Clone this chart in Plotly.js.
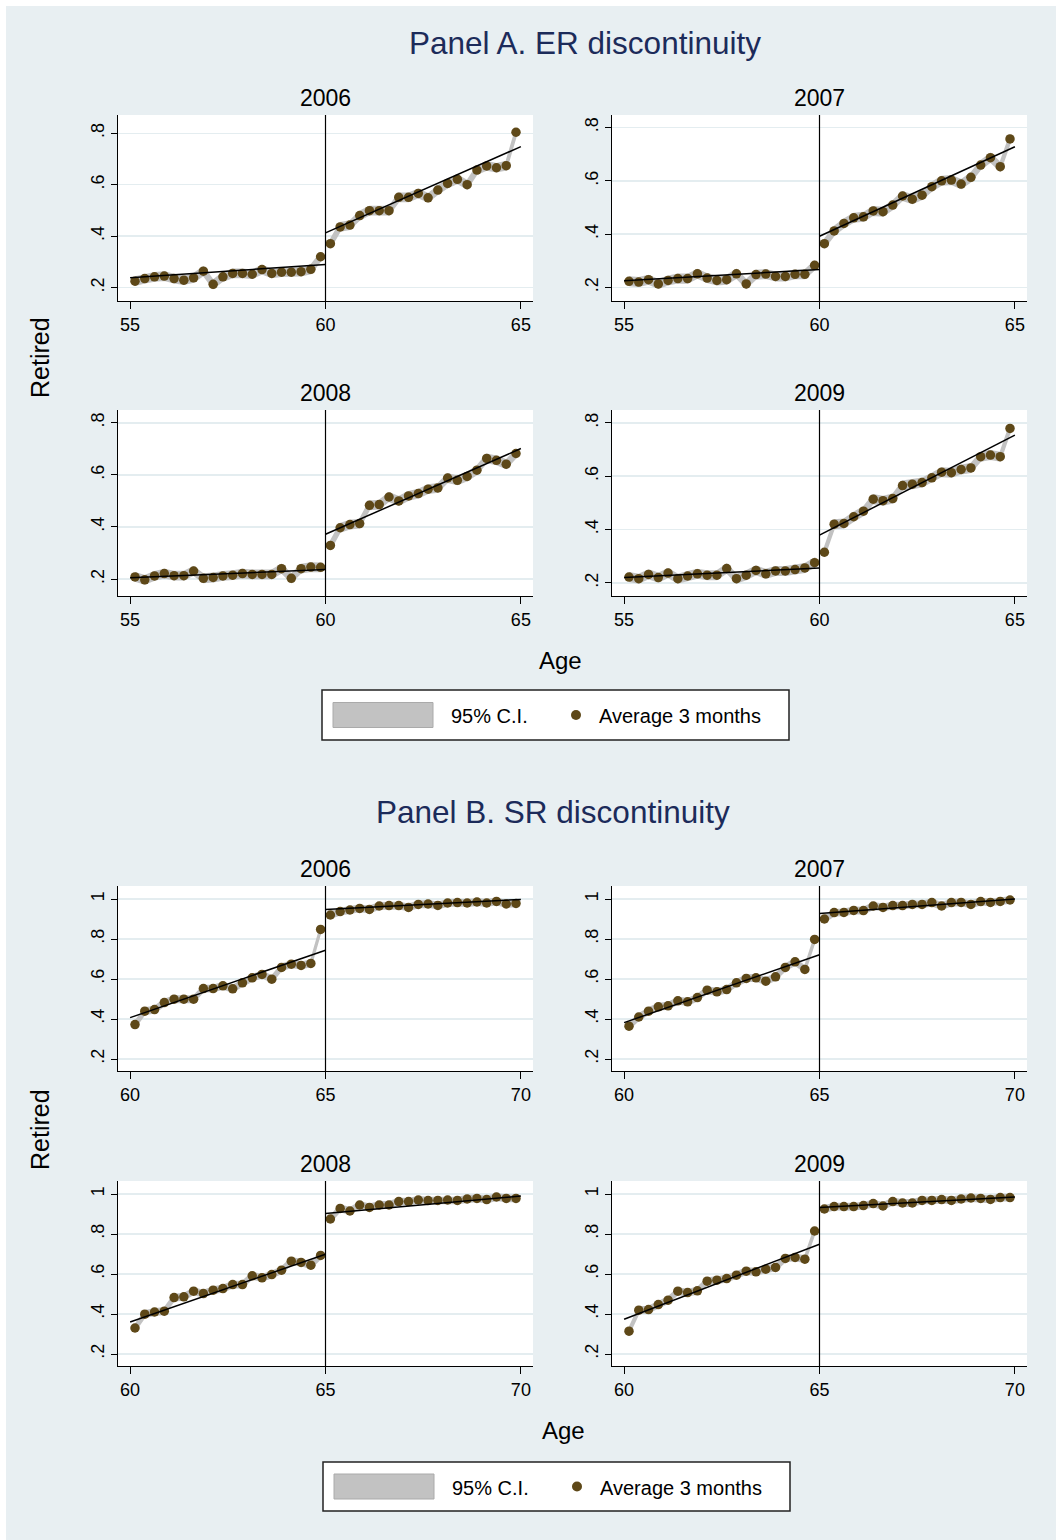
<!DOCTYPE html>
<html><head><meta charset="utf-8">
<script src="https://cdn.plot.ly/plotly-3.0.1.min.js"></script>
<style>html,body{margin:0;padding:0;background:#fff}#chart{width:1056px;height:1540px}</style>
</head><body><div id="chart"></div>
<script>
// ---------------- DATA ----------------
const years = ['2006', '2007', '2008', '2009'];
const ageER = [55.125,55.375,55.625,55.875,56.125,56.375,56.625,56.875,57.125,57.375,57.625,57.875,58.125,58.375,58.625,58.875,59.125,59.375,59.625,59.875,
               60.125,60.375,60.625,60.875,61.125,61.375,61.625,61.875,62.125,62.375,62.625,62.875,63.125,63.375,63.625,63.875,64.125,64.375,64.625,64.875];
const ageSR = [60.125,60.375,60.625,60.875,61.125,61.375,61.625,61.875,62.125,62.375,62.625,62.875,63.125,63.375,63.625,63.875,64.125,64.375,64.625,64.875,
               65.125,65.375,65.625,65.875,66.125,66.375,66.625,66.875,67.125,67.375,67.625,67.875,68.125,68.375,68.625,68.875,69.125,69.375,69.625,69.875];
const cutoffER = 60, cutoffSR = 65;
const xTicksER = [55, 60, 65], xTickTextER = ['55', '60', '65'];
const xTicksSR = [60, 65, 70], xTickTextSR = ['60', '65', '70'];
const yTicksER = [0.2, 0.4, 0.6, 0.8], yTickTextER = ['.2', '.4', '.6', '.8'];
const yTicksSR = [0.2, 0.4, 0.6, 0.8, 1], yTickTextSR = ['.2', '.4', '.6', '.8', '1'];

// Panel A: ER discontinuity (share retired, 3-month averages)
const er2006 = [0.225,0.235,0.242,0.245,0.235,0.229,0.238,0.264,0.213,0.242,0.255,0.255,0.252,0.270,0.255,0.260,0.260,0.262,0.271,0.320,
                0.371,0.436,0.443,0.480,0.499,0.499,0.499,0.551,0.551,0.566,0.549,0.579,0.605,0.621,0.600,0.657,0.673,0.666,0.674,0.804];
const er2007 = [0.223,0.220,0.229,0.213,0.226,0.233,0.233,0.251,0.235,0.226,0.229,0.251,0.213,0.248,0.250,0.241,0.241,0.249,0.249,0.283,
                0.364,0.412,0.440,0.461,0.465,0.487,0.484,0.509,0.543,0.531,0.546,0.578,0.600,0.603,0.588,0.613,0.659,0.687,0.653,0.757];
const er2008 = [0.208,0.197,0.212,0.221,0.213,0.213,0.231,0.203,0.206,0.212,0.215,0.221,0.218,0.218,0.218,0.240,0.203,0.240,0.246,0.245,
                0.329,0.397,0.409,0.413,0.483,0.486,0.515,0.500,0.519,0.528,0.545,0.550,0.588,0.579,0.594,0.618,0.663,0.656,0.641,0.682];
const er2009 = [0.222,0.216,0.232,0.220,0.237,0.216,0.226,0.234,0.229,0.229,0.254,0.216,0.229,0.247,0.234,0.245,0.245,0.250,0.256,0.276,
                0.315,0.420,0.423,0.448,0.469,0.514,0.508,0.516,0.565,0.570,0.576,0.594,0.615,0.613,0.625,0.631,0.673,0.679,0.673,0.779];
// Panel B: SR discontinuity
const sr2006 = [0.372,0.439,0.447,0.482,0.499,0.499,0.499,0.552,0.552,0.566,0.551,0.581,0.606,0.623,0.599,0.658,0.674,0.668,0.678,0.848,
                0.920,0.937,0.945,0.953,0.948,0.965,0.967,0.967,0.958,0.973,0.975,0.968,0.980,0.982,0.980,0.985,0.980,0.988,0.975,0.978];
const sr2007 = [0.364,0.410,0.439,0.461,0.466,0.491,0.486,0.507,0.544,0.536,0.547,0.581,0.603,0.606,0.589,0.611,0.658,0.686,0.648,0.798,
                0.900,0.932,0.933,0.943,0.942,0.965,0.958,0.967,0.967,0.973,0.973,0.982,0.965,0.982,0.983,0.973,0.987,0.983,0.988,0.995];
const sr2008 = [0.330,0.399,0.410,0.414,0.482,0.486,0.514,0.502,0.519,0.527,0.547,0.547,0.591,0.581,0.597,0.619,0.664,0.658,0.644,0.693,
                0.875,0.928,0.915,0.945,0.933,0.945,0.945,0.962,0.962,0.970,0.967,0.968,0.970,0.968,0.975,0.978,0.972,0.985,0.978,0.978];
const sr2009 = [0.314,0.419,0.422,0.447,0.469,0.514,0.507,0.516,0.564,0.569,0.577,0.594,0.614,0.611,0.624,0.633,0.678,0.683,0.674,0.815,
                0.925,0.937,0.937,0.937,0.942,0.952,0.940,0.962,0.955,0.955,0.968,0.968,0.972,0.968,0.975,0.980,0.978,0.973,0.982,0.982];

// Linear fits: [value at start, value at cutoff (left), value at cutoff (right), value at end]
const erFit2006 = [0.238, 0.290, 0.413, 0.748];
const erFit2007 = [0.225, 0.267, 0.392, 0.728];
const erFit2008 = [0.205, 0.237, 0.372, 0.701];
const erFit2009 = [0.220, 0.256, 0.379, 0.754];
const srFit2006 = [0.407, 0.744, 0.948, 0.998];
const srFit2007 = [0.382, 0.721, 0.928, 1.000];
const srFit2008 = [0.360, 0.699, 0.903, 0.990];
const srFit2009 = [0.374, 0.749, 0.933, 0.985];

// Approximate half-width of the 95% confidence band
const ciHalfWidth = 0.016;

// ---------------- LAYOUT ----------------
const W = 1056, H = 1540;
const fx = p => p / W, fy = p => 1 - p / H;
const MARK = '#5e4818', BAND = '#c2c2c2', NAVY = '#1c2b5a';
const FONT = 'Liberation Sans, Arial, Helvetica, sans-serif';

const colPx = [[118, 533], [612, 1027]];
const rowPx = [[115, 301], [410, 596], [886, 1071], [1181, 1366]];

const subplots = [
  {vals: er2006, fit: erFit2006, ages: ageER, cut: cutoffER, col: 0, row: 0, yr: [0.148, 0.871], year: years[0], panel: 'A'},
  {vals: er2007, fit: erFit2007, ages: ageER, cut: cutoffER, col: 1, row: 0, yr: [0.149, 0.847], year: years[1], panel: 'A'},
  {vals: er2008, fit: erFit2008, ages: ageER, cut: cutoffER, col: 0, row: 1, yr: [0.135, 0.849], year: years[2], panel: 'A'},
  {vals: er2009, fit: erFit2009, ages: ageER, cut: cutoffER, col: 1, row: 1, yr: [0.151, 0.848], year: years[3], panel: 'A'},
  {vals: sr2006, fit: srFit2006, ages: ageSR, cut: cutoffSR, col: 0, row: 2, yr: [0.14, 1.065], year: years[0], panel: 'B'},
  {vals: sr2007, fit: srFit2007, ages: ageSR, cut: cutoffSR, col: 1, row: 2, yr: [0.14, 1.065], year: years[1], panel: 'B'},
  {vals: sr2008, fit: srFit2008, ages: ageSR, cut: cutoffSR, col: 0, row: 3, yr: [0.14, 1.065], year: years[2], panel: 'B'},
  {vals: sr2009, fit: srFit2009, ages: ageSR, cut: cutoffSR, col: 1, row: 3, yr: [0.14, 1.065], year: years[3], panel: 'B'}
];

const traces = [];
const layout = {
  width: W, height: H,
  margin: {l: 0, r: 0, t: 0, b: 0},
  paper_bgcolor: '#e8eff2',
  plot_bgcolor: '#ffffff',
  showlegend: false,
  font: {family: FONT, color: '#000'},
  shapes: [], annotations: []
};

subplots.forEach((sp, i) => {
  const s = i === 0 ? '' : String(i + 1);
  const xa = 'x' + s, ya = 'y' + s;
  const isA = sp.panel === 'A';
  const n = sp.ages.length, half = n / 2;
  const segs = [[0, half], [half, n]];
  segs.forEach(([a, b]) => {
    const xs = sp.ages.slice(a, b), ys = sp.vals.slice(a, b);
    const up = ys.map(v => v + ciHalfWidth), lo = ys.map(v => v - ciHalfWidth);
    traces.push({x: xs.concat(xs.slice().reverse()), y: up.concat(lo.slice().reverse()),
      xaxis: xa, yaxis: ya, type: 'scatter', mode: 'lines', fill: 'toself',
      fillcolor: BAND, line: {width: 1.5, color: BAND}, hoverinfo: 'skip'});
  });
  traces.push({x: sp.ages, y: sp.vals, xaxis: xa, yaxis: ya, type: 'scatter', mode: 'markers',
    marker: {color: MARK, size: 9.5, line: {width: 0}}});
  const x0 = sp.cut - 5, x1 = sp.cut + 5;
  traces.push({x: [x0, sp.cut], y: [sp.fit[0], sp.fit[1]], xaxis: xa, yaxis: ya, type: 'scatter', mode: 'lines',
    line: {color: '#000', width: 1.5}});
  traces.push({x: [sp.cut, x1], y: [sp.fit[2], sp.fit[3]], xaxis: xa, yaxis: ya, type: 'scatter', mode: 'lines',
    line: {color: '#000', width: 1.5}});

  const cp = colPx[sp.col], rp = rowPx[sp.row];
  layout['xaxis' + s] = {
    domain: [fx(cp[0]), fx(cp[1])], anchor: ya,
    range: [x0 - 0.31, x1 + 0.31],
    tickvals: isA ? xTicksER : xTicksSR, ticktext: isA ? xTickTextER : xTickTextSR,
    showgrid: false, zeroline: false, showline: true, linecolor: '#000', linewidth: 1,
    ticks: 'outside', ticklen: 7, tickcolor: '#000', tickwidth: 1,
    tickfont: {size: 18, color: '#000', family: FONT}, fixedrange: true
  };
  layout['yaxis' + s] = {
    domain: [fy(rp[1]), fy(rp[0])], anchor: xa,
    range: sp.yr,
    tickvals: isA ? yTicksER : yTicksSR, ticktext: isA ? yTickTextER : yTickTextSR,
    tickangle: -90,
    showgrid: true, gridcolor: '#e4edf0', gridwidth: 1.5,
    zeroline: false, showline: true, linecolor: '#000', linewidth: 1,
    ticks: 'outside', ticklen: 6, tickcolor: '#000', tickwidth: 1,
    tickfont: {size: 18, color: '#000', family: FONT}, fixedrange: true
  };
  layout.shapes.push({type: 'line', xref: xa, yref: ya + ' domain', x0: sp.cut, x1: sp.cut, y0: 0, y1: 1,
    line: {color: '#000', width: 1.2}});
  layout.annotations.push({text: sp.year, xref: 'paper', yref: 'paper',
    x: fx((cp[0] + cp[1]) / 2), y: fy(rp[0] - 17), xanchor: 'center', yanchor: 'middle',
    showarrow: false, font: {size: 23, color: '#000', family: FONT}});
});

// White strips at the top and left edges of the picture
layout.shapes.push({type: 'rect', xref: 'paper', yref: 'paper', x0: 0, x1: fx(6), y0: 0, y1: 1,
  fillcolor: '#ffffff', line: {width: 0}, layer: 'above'});
layout.shapes.push({type: 'rect', xref: 'paper', yref: 'paper', x0: 0, x1: 1, y0: fy(6), y1: 1,
  fillcolor: '#ffffff', line: {width: 0}, layer: 'above'});

function addText(t, x, y, size, color, opts) {
  layout.annotations.push(Object.assign({text: t, xref: 'paper', yref: 'paper', x: fx(x), y: fy(y),
    xanchor: 'center', yanchor: 'middle', showarrow: false,
    font: {size: size, color: color, family: FONT}}, opts || {}));
}
// Panel titles
addText('Panel A. ER discontinuity', 585, 43, 31.5, NAVY);
addText('Panel B. SR discontinuity', 553, 812, 31.5, NAVY);
// Axis titles
addText('Retired', 40, 358, 25, '#000', {textangle: -90});
addText('Retired', 40, 1130, 25, '#000', {textangle: -90});
addText('Age', 560, 660, 24, '#000');
addText('Age', 563, 1430, 24, '#000');

// Legends (drawn as boxes with real text)
function addLegend(x0, y0, x1, y1) {
  layout.shapes.push({type: 'rect', xref: 'paper', yref: 'paper', x0: fx(x0), x1: fx(x1), y0: fy(y1), y1: fy(y0),
    fillcolor: '#ffffff', line: {color: '#222', width: 1.5}});
  const cy = (y0 + y1) / 2;
  layout.shapes.push({type: 'rect', xref: 'paper', yref: 'paper', x0: fx(x0 + 11), x1: fx(x0 + 111),
    y0: fy(cy + 12.5), y1: fy(cy - 12.5), fillcolor: BAND, line: {color: '#aaaaaa', width: 1}});
  addText('95% C.I.', x0 + 127, cy + 1, 20, '#000', {xanchor: 'left'});
  layout.shapes.push({type: 'circle', xref: 'paper', yref: 'paper', x0: fx(x0 + 249), x1: fx(x0 + 259),
    y0: fy(cy + 5), y1: fy(cy - 5), fillcolor: MARK, line: {width: 0}});
  addText('Average 3 months', x0 + 275, cy + 1, 20, '#000', {xanchor: 'left'});
}
addLegend(322, 690, 789, 740);
addLegend(323, 1462, 790, 1511);

Plotly.newPlot('chart', traces, layout, {displayModeBar: false, staticPlot: true});
</script>
</body></html>
